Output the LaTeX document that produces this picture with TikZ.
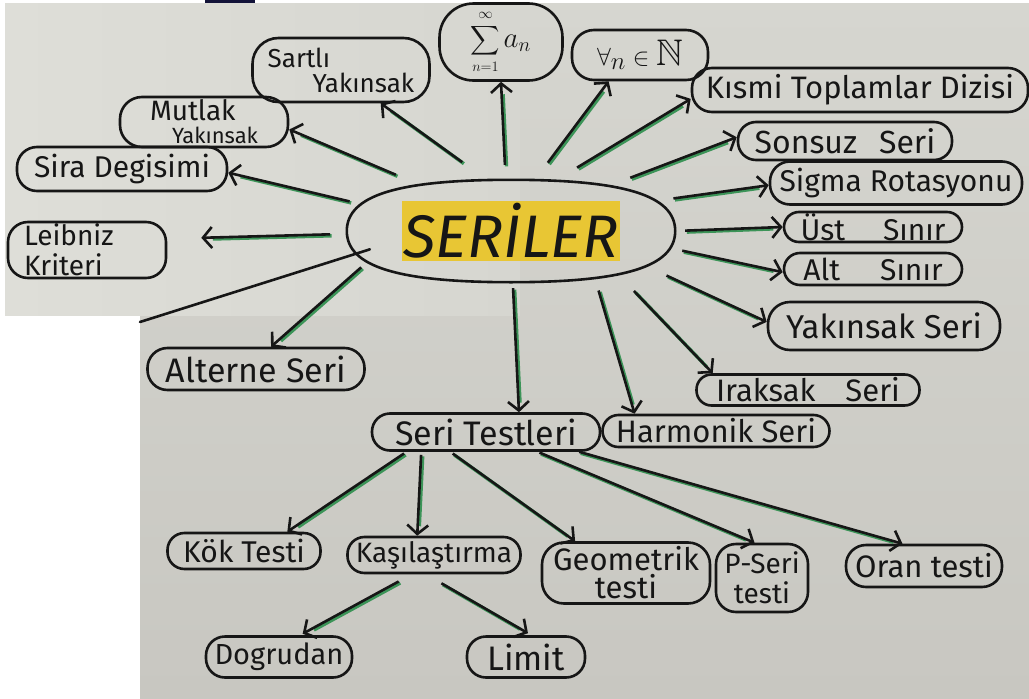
\documentclass[tikz,border=0pt]{standalone}
\usepackage{graphicx}
\usepackage{amsmath}
\usepackage{amssymb}
\usepackage{fontspec}
\newfontfamily\hand{Fira Sans}
\usetikzlibrary{arrows.meta,shapes.geometric}
\definecolor{ink}{RGB}{22,22,22}
\definecolor{arrgreen}{RGB}{60,148,88}
\definecolor{hl}{RGB}{232,198,52}
\definecolor{paper}{RGB}{200,199,193}
\definecolor{paperlt}{RGB}{214,214,208}
\definecolor{panel}{RGB}{222,222,216}
\newcommand\fsz[2]{\fontsize{#1}{#2}\selectfont}
\tikzset{
  hnode/.style={draw=ink, line width=2.6pt, rounded corners=#1, inner sep=0pt, align=center, text=ink},
  hnode/.default=15pt,
  arr/.style={draw=ink, line width=2.6pt, -{Straight Barb[length=9pt,width=21pt]},
    preaction={draw=arrgreen, line width=3.4pt, -, shorten >=#1, transform canvas={shift={(1.6pt,-1.5pt)}}}},
  arr/.default=11pt,
  plain/.style={draw=ink, line width=2.6pt, line cap=round}
}
\begin{document}
\begin{tikzpicture}[x=1pt,y=-1pt]
\useasboundingbox (0,0) rectangle (1029,699);
% backgrounds
\fill[white] (0,0) rectangle (1029,699);
\shade[top color=paperlt, bottom color=paper] (140,3) rectangle (1029,699);
\shade[left color=panel, right color=paperlt] (5,3) rectangle (520,315);
\fill[ink!85!blue] (205,0) rectangle (255,3);

% central node
\node[ellipse, minimum width=328pt, minimum height=102pt, inner sep=0pt] (ser) at (511,231)
  {\setlength\fboxsep{2pt}\colorbox{hl}{\hand\itshape\fsz{60}{60}\color{ink}SERİLER}};
\draw[plain] (ser.east) .. controls +(0,-36) and +(112,0) .. (ser.north)
  .. controls +(-112,0) and +(0,-36) .. (ser.west)
  .. controls +(0,36) and +(-112,0) .. (ser.south)
  .. controls +(112,0) and +(0,36) .. (ser.east);

% surrounding nodes
\node[hnode=26pt, minimum width=177pt, minimum height=64pt, align=left, font=\hand\fsz{26}{25}] (sart) at (341,70) {Sartlı\\\hspace*{45pt}Yakınsak};
\node[hnode=34pt, minimum width=123pt, minimum height=77pt, font=\fsz{17}{19}] (sig) at (501,42)
  {\scalebox{1.2}{$\vcenter{\hbox{\shortstack{$\scriptstyle\infty$\\[2pt]$\displaystyle\sum$\\[1pt]$\scriptstyle n=1$}}}\,\hbox{\scalebox{1.4}{$a_n$}}$}};
\node[hnode=22pt, minimum width=136pt, minimum height=50pt, font=\fsz{37}{38}] (all) at (640,55) {$\forall_{n}\in\mathbb{N}$};
\node[hnode=20pt, minimum width=336pt, minimum height=44pt, font=\hand\fsz{31}{34}] (kis) at (860,90) {Kısmi Toplamlar Dizisi};
\node[hnode=18pt, minimum width=214pt, minimum height=38pt, font=\hand\fsz{32}{34}] (son) at (845,141) {Sonsuz\hspace{22pt}Seri};
\node[hnode=20pt, minimum width=252pt, minimum height=43pt, font=\hand\fsz{30}{33}] (sgm) at (896,183) {Sigma Rotasyonu};
\node[hnode=15pt, minimum width=178pt, minimum height=30pt, font=\hand\fsz{30}{32}] (ust) at (873,227) {Üst\hspace{38pt}Sınır};
\node[hnode=16pt, minimum width=178pt, minimum height=32pt, font=\hand\fsz{30}{32}] (alt) at (873,269) {Alt\hspace{40pt}Sınır};
\node[hnode=22pt, minimum width=232pt, minimum height=48pt, font=\hand\fsz{33}{36}] (yser) at (884,326) {Yakınsak Seri};
\node[hnode=15pt, minimum width=223pt, minimum height=31pt, font=\hand\fsz{31}{33}] (irk) at (808,390) {Iraksak\hspace{30pt}Seri};
\node[hnode=16pt, minimum width=227pt, minimum height=32pt, font=\hand\fsz{31}{33}] (har) at (716,431) {Harmonik Seri};
\node[hnode=18pt, minimum width=228pt, minimum height=37pt, font=\hand\fsz{34}{36}] (ste) at (486,432) {Seri Testleri};
\node[hnode=20pt, minimum width=217pt, minimum height=42pt, font=\hand\fsz{34}{36}] (alr) at (256,369) {Alterne Seri};
\node[hnode=20pt, minimum width=158pt, minimum height=56pt, text width=126pt, align=left, font=\hand\fsz{28}{30}] (leib) at (87,250) {Leibniz\\Kriteri};
\node[hnode=20pt, minimum width=210pt, minimum height=44pt, font=\hand\fsz{30}{33}] (sira) at (122,169) {Sira Degisimi};
\node[hnode=22pt, minimum width=168pt, minimum height=50pt, align=left, font=\hand\fsz{28}{23}] (mut) at (204,122) {Mutlak\\\hspace*{22pt}\fsz{22}{23}Yakınsak};

% test nodes
\node[hnode=17pt, minimum width=153pt, minimum height=36pt, font=\hand\fsz{30}{32}] (kok) at (244,551) {Kök Testi};
\node[hnode=17pt, minimum width=173pt, minimum height=36pt, font=\hand\fsz{28}{30}] (kas) at (434,555) {Kaşılaştırma};
\node[hnode=22pt, minimum width=168pt, minimum height=61pt, font=\hand\fsz{31}{28}] (geo) at (626,573) {Geometrik\\testi};
\node[hnode=20pt, minimum width=92pt, minimum height=68pt, font=\hand\fsz{28}{30}] (pse) at (762,578) {P-Seri\\testi};
\node[hnode=20pt, minimum width=156pt, minimum height=42pt, font=\hand\fsz{31}{33}] (ora) at (924,566) {Oran testi};
\node[hnode=19pt, minimum width=146pt, minimum height=41pt, font=\hand\fsz{29}{31}] (dog) at (279,657) {Dogrudan};
\node[hnode=19pt, minimum width=118pt, minimum height=41pt, font=\hand\fsz{34}{36}] (lim) at (526,657) {Limit};

% connectors from SERILER
\draw[arr, shorten <=31pt] (ser.115) -- (sart.-40);
\draw[arr, shorten <=15pt] (ser.96) -- (sig.south);
\draw[arr, shorten <=22pt] (ser.65) -- (all.-140);
\draw[arr, shorten <=27pt] (ser.49) -- (kis.183);
\draw[arr, shorten <=30pt] (ser.25) -- (son.178);
\draw[arr, shorten <=27pt] (ser.12) -- (sgm.181);
\draw[arr, shorten <=10pt] (ser.0) -- (ust.west);
\draw[arr, shorten <=16pt] (ser.-6) -- (alt.182);
\draw[arr, shorten <=30pt] (ser.-14) -- (yser.178);
\draw[arr, shorten <=28pt] (ser.-21) -- (irk.170);
\draw[arr, shorten <=16pt] (ser.-28) -- (har.168);
\draw[arr, shorten <=6pt] (ser.-88) -- (ste.31);
\draw[arr, shorten <=14pt] (ser.-169) -- (alr.56);
\draw[arr=44pt, shorten <=17pt, shorten >=34pt] (ser.181) -- (leib.8);
\draw[arr, shorten <=19pt] (ser.170) -- (sira.-2);
\draw[arr, shorten <=32pt] (ser.153) -- (mut.-5);
\coordinate (pc) at (140,322);
\draw[plain, shorten <=-9pt] (ser.188) -- (pc);

% connectors from Seri Testleri
\draw[arr, shorten <=3pt] (ste.-166) -- (kok.24);
\draw[arr, shorten <=3pt] (ste.-163) -- (kas.131);
\draw[arr, shorten <=3pt] (ste.-151) -- (geo.148);
\draw[arr, shorten <=2pt] (ste.-21) -- (pse.102);
\draw[arr] (ste.-12) -- (ora.134);

% connectors from Kasilastirma
\draw[arr=14pt, shorten <=15pt, shorten >=3pt] (kas.-139) -- (dog.46);
\draw[arr=15pt, shorten <=18pt, shorten >=4pt] (kas.-113) -- (lim.76);
\end{tikzpicture}
\end{document}
